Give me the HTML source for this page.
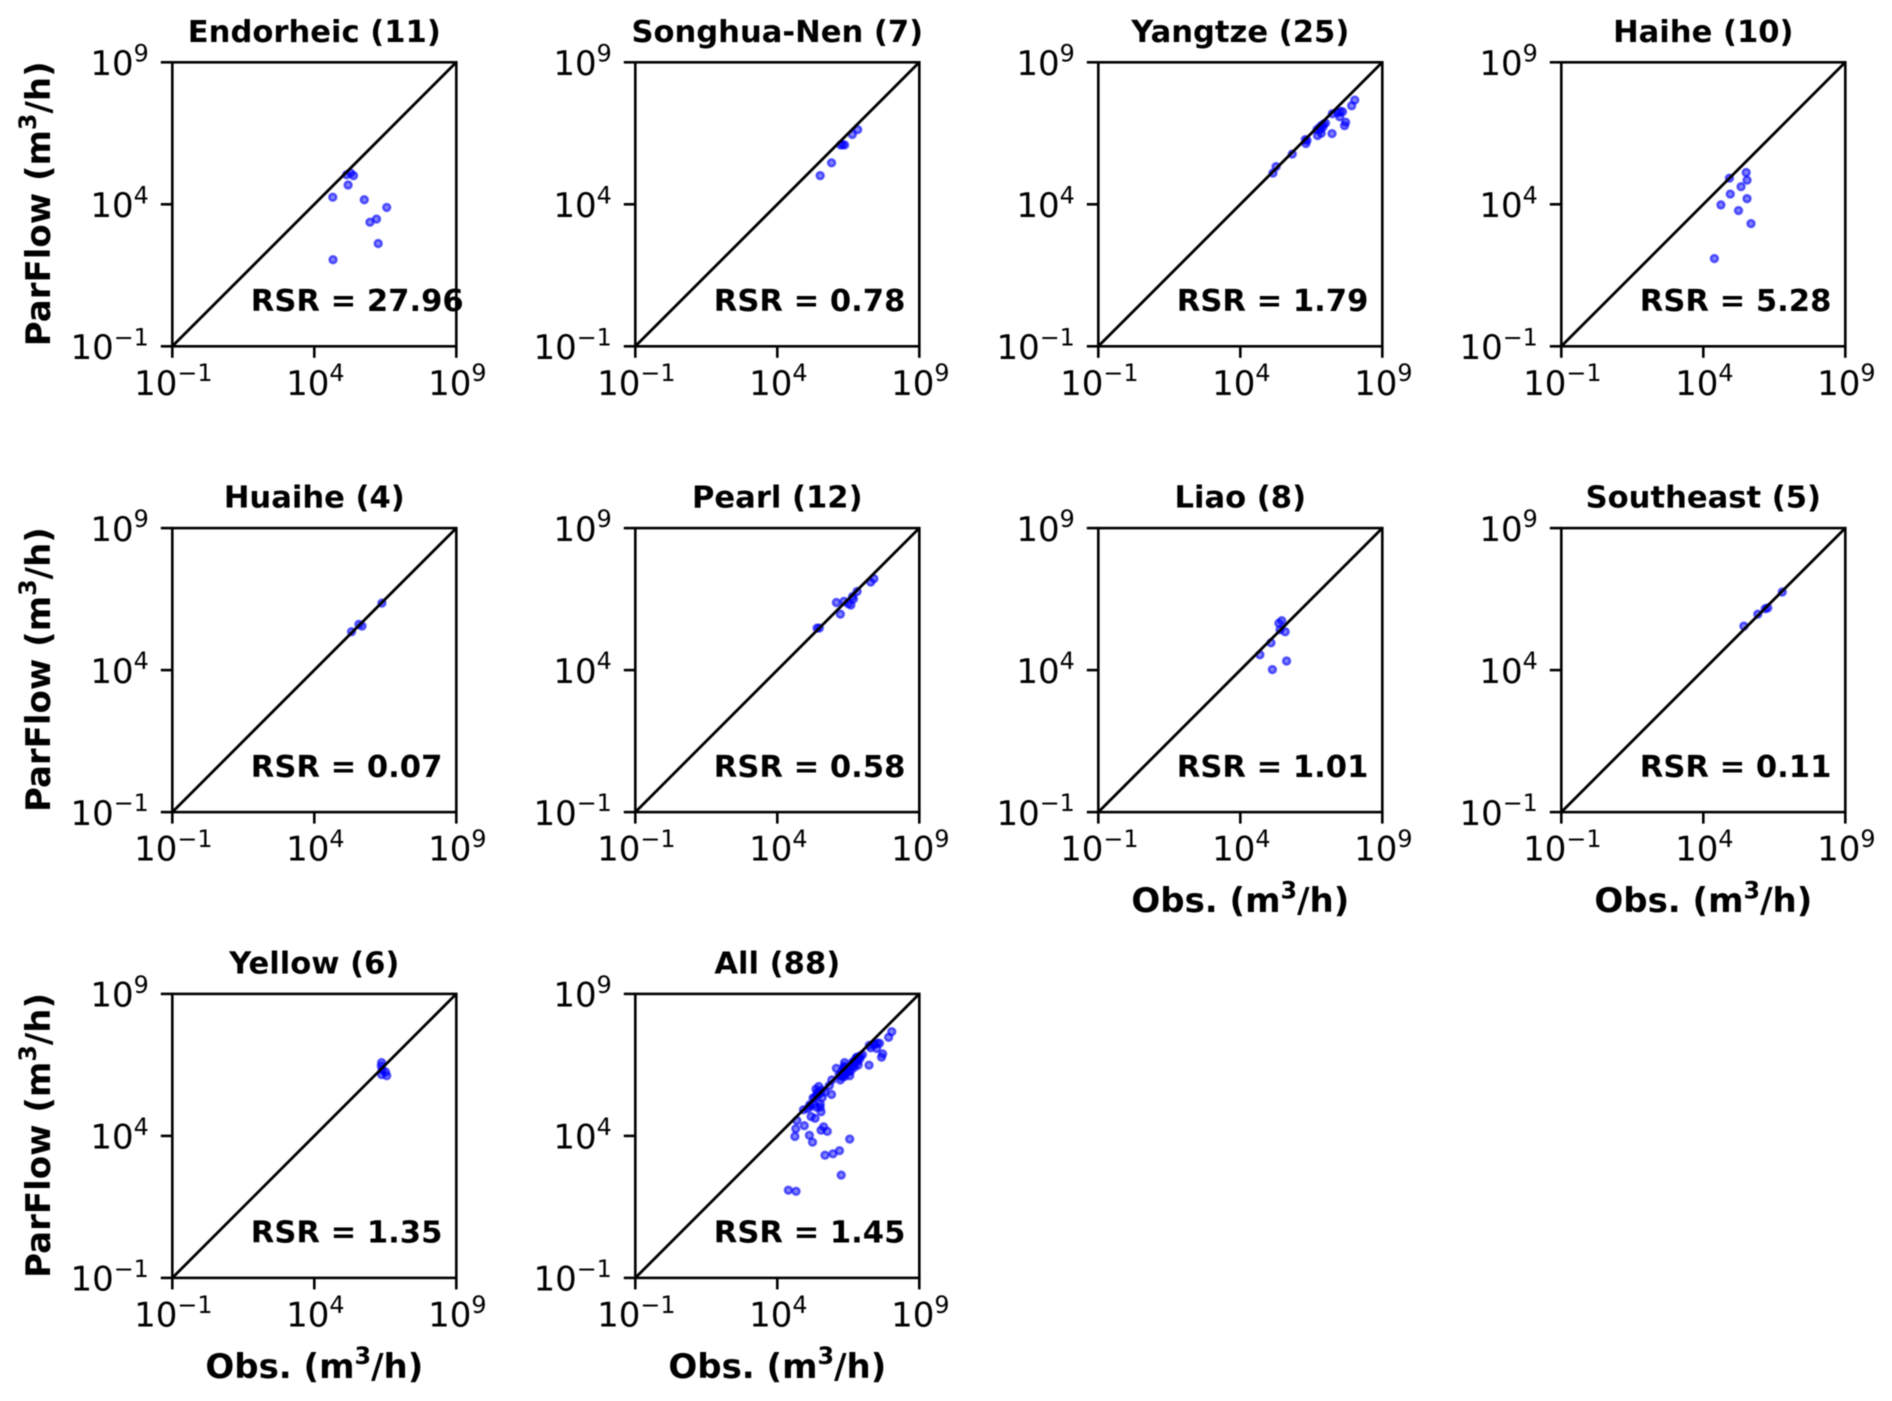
<!DOCTYPE html>
<html lang="en">
<head>
<meta charset="utf-8">
<title>ParFlow vs observed flow by basin</title>
<style>
  html, body { margin: 0; padding: 0; background: #ffffff; }
  svg { display: block; filter: blur(0.45px); }
  text { font-family: "DejaVu Sans", "Liberation Sans", sans-serif; fill: #000; }
</style>
</head>
<body>
<svg id="chart" xmlns="http://www.w3.org/2000/svg" width="1892" height="1401" viewBox="0 0 1892 1401"></svg>
<script>
// All series values are log10(m3/h).
const obsEndorheic = [4.65, 5.19, 5.14, 5.28, 5.38, 5.76, 6.55, 6.19, 5.96, 6.25, 4.66];
const simEndorheic = [4.25, 4.68, 5.04, 5.10, 5.01, 4.16, 3.89, 3.48, 3.37, 2.62, 2.05];
const obsSonghua = [5.51, 5.91, 6.23, 6.30, 6.37, 6.64, 6.83];
const simSonghua = [5.01, 5.46, 6.09, 6.10, 6.09, 6.46, 6.63];
const obsYangtze = [5.15, 5.26, 5.83, 6.31, 6.35, 6.29, 6.72, 6.85, 7.23, 7.67, 7.71, 7.50, 6.70, 6.79, 6.86, 6.93, 7.00, 6.82, 6.91, 7.24, 7.43, 7.60, 7.52, 7.92, 8.03];
const simYangtze = [5.10, 5.33, 5.77, 6.14, 6.25, 6.28, 6.42, 6.50, 6.49, 6.77, 6.89, 7.08, 6.63, 6.70, 6.77, 6.82, 6.86, 6.63, 6.72, 7.19, 7.22, 7.26, 7.27, 7.47, 7.67];
const obsHaihe = [4.92, 5.51, 5.54, 5.33, 4.95, 5.54, 4.62, 5.24, 5.68, 4.39];
const simHaihe = [4.92, 5.12, 4.85, 4.62, 4.36, 4.20, 3.98, 3.78, 3.32, 2.09];
const obsHuaihe = [5.31, 5.57, 5.68, 6.38];
const simHuaihe = [5.35, 5.61, 5.55, 6.36];
const obsPearl = [5.40, 5.48, 6.08, 6.22, 6.35, 6.50, 6.59, 6.68, 6.65, 6.81, 7.29, 7.40];
const simPearl = [5.48, 5.48, 6.38, 5.97, 6.42, 6.34, 6.29, 6.50, 6.59, 6.77, 7.10, 7.22];
const obsLiao = [5.46, 5.36, 5.40, 5.58, 5.08, 4.69, 5.63, 5.13];
const simLiao = [5.74, 5.65, 5.42, 5.35, 4.96, 4.54, 4.32, 4.02];
const obsSoutheast = [5.43, 5.92, 6.18, 6.27, 6.78];
const simSoutheast = [5.55, 5.97, 6.16, 6.19, 6.75];
const obsYellow = [6.37, 6.36, 6.39, 6.37, 6.51, 6.55];
const simYellow = [6.58, 6.46, 6.32, 6.16, 6.25, 6.12];

const obsAll = [].concat(obsEndorheic, obsSonghua, obsYangtze, obsHaihe, obsHuaihe, obsPearl, obsLiao, obsSoutheast, obsYellow);
const simAll = [].concat(simEndorheic, simSonghua, simYangtze, simHaihe, simHuaihe, simPearl, simLiao, simSoutheast, simYellow);

const panelTitles = ["Endorheic (11)", "Songhua-Nen (7)", "Yangtze (25)", "Haihe (10)", "Huaihe (4)", "Pearl (12)", "Liao (8)", "Southeast (5)", "Yellow (6)", "All (88)"];
const panelRsr = ["RSR = 27.96", "RSR = 0.78", "RSR = 1.79", "RSR = 5.28", "RSR = 0.07", "RSR = 0.58", "RSR = 1.01", "RSR = 0.11", "RSR = 1.35", "RSR = 1.45"];
const panelObs = [obsEndorheic, obsSonghua, obsYangtze, obsHaihe, obsHuaihe, obsPearl, obsLiao, obsSoutheast, obsYellow, obsAll];
const panelSim = [simEndorheic, simSonghua, simYangtze, simHaihe, simHuaihe, simPearl, simLiao, simSoutheast, simYellow, simAll];
const tickExponents = [-1, 4, 9];
const tickLabels = ["\u22121", "4", "9"];
const axisMin = -1;
const axisMax = 9;

const PANEL_SIZE = 284;
const COL_LEFT = 172.3;
const COL_STEP = 463;
const ROW_TOP = 62.3;
const ROW_STEP = 465.8;
const svg = document.getElementById('chart');
const NS = 'http://www.w3.org/2000/svg';

function make(tag, parent) {
  const node = document.createElementNS(NS, tag);
  parent.appendChild(node);
  return node;
}
function set(node, key, value) { node.setAttribute(key, value); }
function scaleX(left, v) { return left + (v - axisMin) / (axisMax - axisMin) * PANEL_SIZE; }
function scaleY(top, v) { return top + PANEL_SIZE - (v - axisMin) / (axisMax - axisMin) * PANEL_SIZE; }
function addSuperscriptText(node, before, sup, after, supSize, rise) {
  const a = make('tspan', node);
  a.textContent = before;
  const s = make('tspan', node);
  set(s, 'dy', -rise);
  set(s, 'font-size', supSize);
  s.textContent = sup;
  if (after) {
    const c = make('tspan', node);
    set(c, 'dy', rise);
    c.textContent = after;
  }
}

for (let i = 0; i < panelTitles.length; i++) {
  const col = i % 4;
  const row = Math.floor(i / 4);
  const left = COL_LEFT + col * COL_STEP;
  const top = ROW_TOP + row * ROW_STEP;
  const right = left + PANEL_SIZE;
  const bottom = top + PANEL_SIZE;

  const g = make('g', svg);
  
  

  // points
  const obs = panelObs[i];
  const sim = panelSim[i];
  for (let p = 0; p < obs.length; p++) {
    const dot = make('circle', g);
    
    
    set(dot, 'cx', scaleX(left, obs[p]).toFixed(2));
    set(dot, 'cy', scaleY(top, sim[p]).toFixed(2));
    set(dot, 'r', 3.5);
    set(dot, 'fill', 'rgba(0,0,255,0.5)');
    set(dot, 'stroke', 'rgba(0,0,255,0.6)');
    set(dot, 'stroke-width', 2.4);
  }

  // 1:1 line
  const diag = make('line', g);
  
  
  set(diag, 'x1', scaleX(left, axisMin));
  set(diag, 'y1', scaleY(top, axisMin));
  set(diag, 'x2', scaleX(left, axisMax));
  set(diag, 'y2', scaleY(top, axisMax));
  set(diag, 'stroke', '#000');
  set(diag, 'stroke-width', 2.8);

  // frame
  const frame = make('rect', g);
  
  
  set(frame, 'x', left);
  set(frame, 'y', top);
  set(frame, 'width', PANEL_SIZE);
  set(frame, 'height', PANEL_SIZE);
  set(frame, 'fill', 'none');
  set(frame, 'stroke', '#000');
  set(frame, 'stroke-width', 2.6);

  // ticks and tick labels
  for (let t = 0; t < tickExponents.length; t++) {
    const tx = scaleX(left, tickExponents[t]);
    const ty = scaleY(top, tickExponents[t]);

    const xTick = make('line', g);
    
    
    set(xTick, 'x1', tx);
    set(xTick, 'x2', tx);
    set(xTick, 'y1', bottom);
    set(xTick, 'y2', bottom + 11.5);
    set(xTick, 'stroke', '#000');
    set(xTick, 'stroke-width', 2.6);

    const yTick = make('line', g);
    
    
    set(yTick, 'x1', left - 11.5);
    set(yTick, 'x2', left);
    set(yTick, 'y1', ty);
    set(yTick, 'y2', ty);
    set(yTick, 'stroke', '#000');
    set(yTick, 'stroke-width', 2.6);

    const xLabel = make('text', g);
    
    
    set(xLabel, 'x', tx + 1);
    set(xLabel, 'y', bottom + 48.5);
    set(xLabel, 'text-anchor', 'middle');
    set(xLabel, 'font-size', 34);
    addSuperscriptText(xLabel, '10', tickLabels[t], '', 23.8, 13.6);

    const yLabel = make('text', g);
    
    
    set(yLabel, 'x', left - 23.5);
    set(yLabel, 'y', ty + 12.7);
    set(yLabel, 'text-anchor', 'end');
    set(yLabel, 'font-size', 34);
    addSuperscriptText(yLabel, '10', tickLabels[t], '', 23.8, 13.6);
  }

  // title
  const title = make('text', g);
  
  
  set(title, 'x', left + PANEL_SIZE / 2);
  set(title, 'y', top - 20.5);
  set(title, 'text-anchor', 'middle');
  set(title, 'font-size', 30.6);
  set(title, 'font-weight', 'bold');
  title.textContent = panelTitles[i];

  // RSR annotation
  const rsr = make('text', g);
  
  
  set(rsr, 'x', left + 78.5);
  set(rsr, 'y', bottom - 35.2);
  set(rsr, 'font-size', 30.6);
  set(rsr, 'font-weight', 'bold');
  rsr.textContent = panelRsr[i];

  // y-axis title on first column
  if (col === 0) {
    const yt = make('text', g);
    
    
    set(yt, 'transform', 'translate(50,' + (top + PANEL_SIZE / 2 - 0.5) + ') rotate(-90)');
    set(yt, 'text-anchor', 'middle');
    set(yt, 'font-size', 34);
    set(yt, 'font-weight', 'bold');
    addSuperscriptText(yt, 'ParFlow (m', '3', '/h)', 23.8, 13.8);
  }

  // x-axis title on lowest panel of each column
  if (i >= 6) {
    const xt = make('text', g);
    
    
    set(xt, 'x', left + PANEL_SIZE / 2);
    set(xt, 'y', bottom + 100);
    set(xt, 'text-anchor', 'middle');
    set(xt, 'font-size', 34);
    set(xt, 'font-weight', 'bold');
    addSuperscriptText(xt, 'Obs. (m', '3', '/h)', 23.8, 13.8);
  }
}
</script>
</body>
</html>
